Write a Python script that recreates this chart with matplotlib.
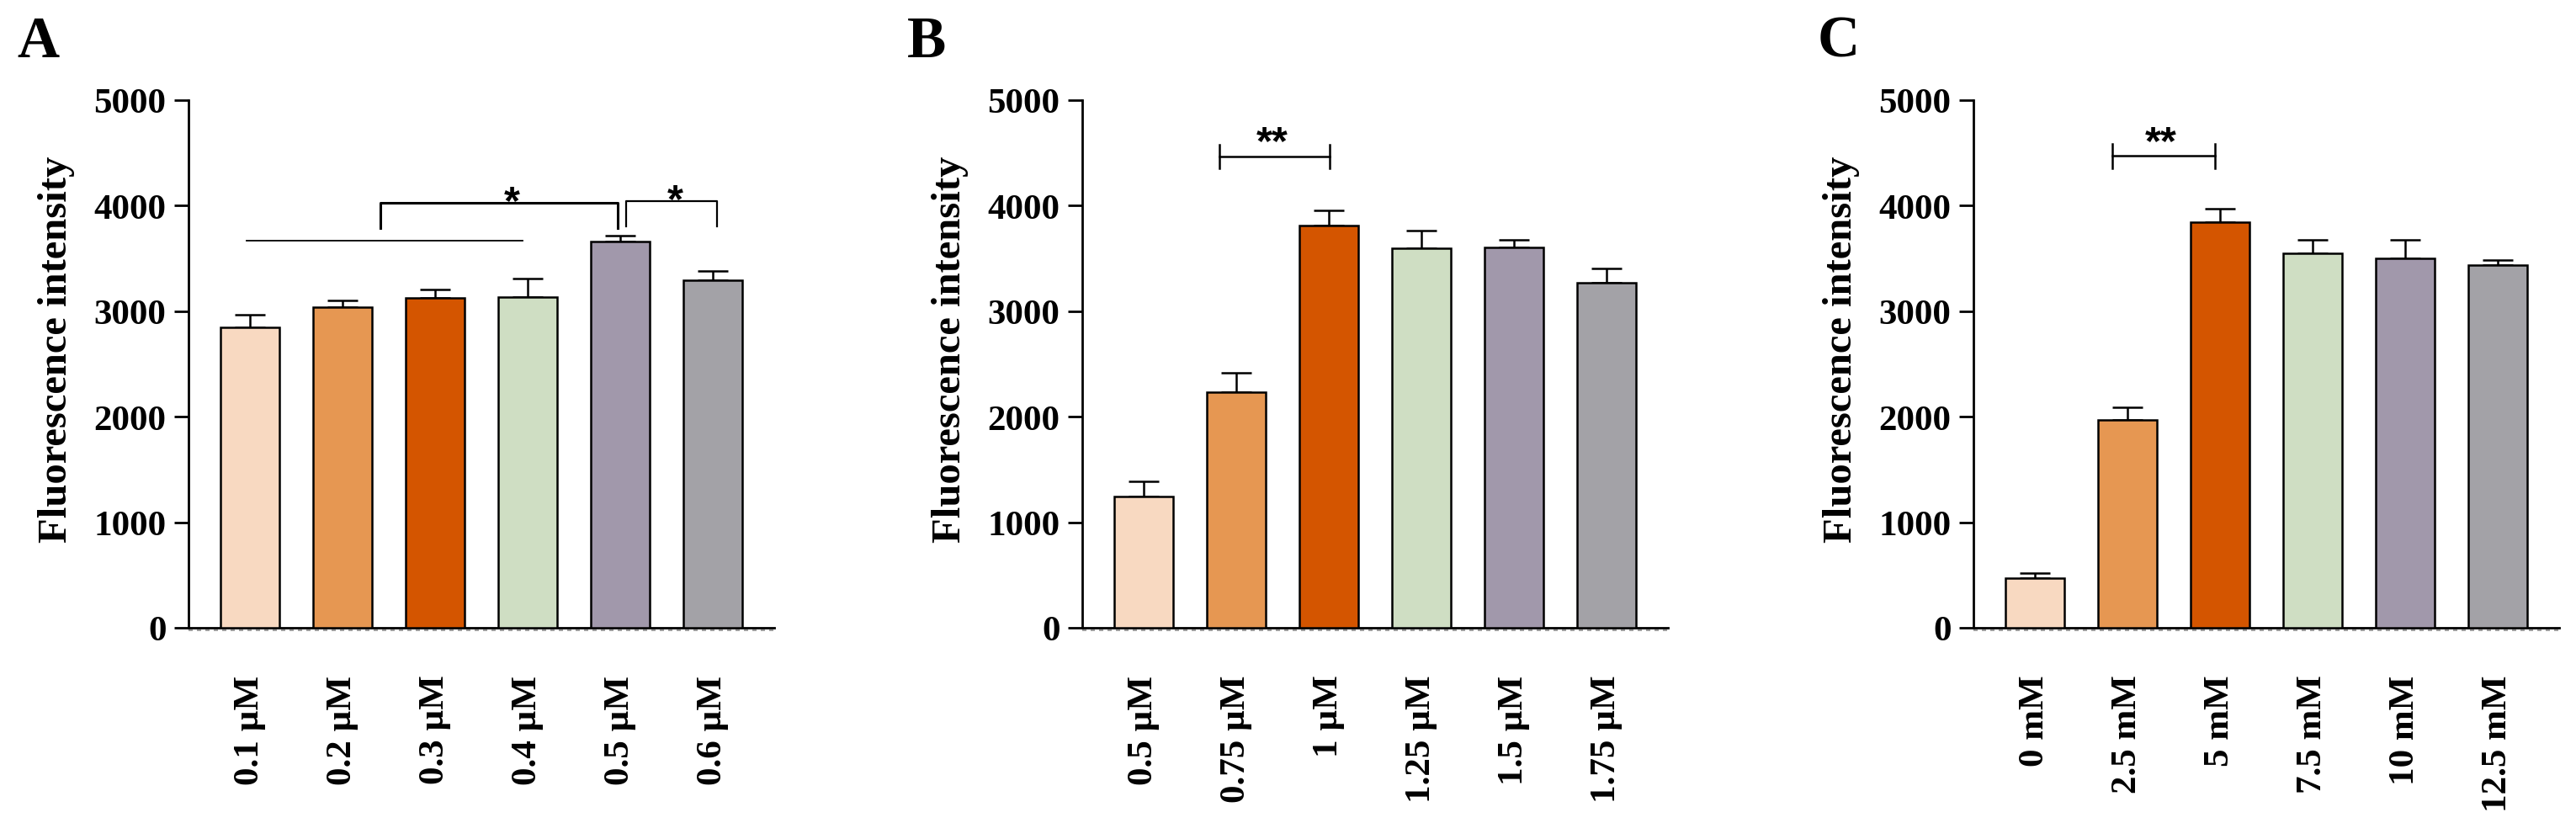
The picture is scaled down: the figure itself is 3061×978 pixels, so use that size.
import matplotlib
matplotlib.use("Agg")
import matplotlib.pyplot as plt
import matplotlib.transforms as mtransforms

plt.rcParams['font.family'] = ['Liberation Serif', 'DejaVu Serif']
plt.rcParams['font.weight'] = 'bold'

# bar colours, same order in all three panels
colors = ["#F8D9C1", "#E69752", "#D45500", "#CFDEC3", "#A198AB", "#A3A2A7"]

labels_a = ["0.1 µM", "0.2 µM", "0.3 µM", "0.4 µM", "0.5 µM", "0.6 µM"]
mean_a = [2850, 3038, 3125, 3135, 3657, 3294]
sd_a = [116, 66, 78, 175, 57, 90]

labels_b = ["0.5 µM", "0.75 µM", "1 µM", "1.25 µM", "1.5 µM", "1.75 µM"]
mean_b = [1244, 2233, 3811, 3595, 3608, 3271]
sd_b = [145, 186, 145, 169, 69, 132]

labels_c = ["0 mM", "2.5 mM", "5 mM", "7.5 mM", "10 mM", "12.5 mM"]
mean_c = [474, 1969, 3845, 3545, 3501, 3435]
sd_c = [47, 117, 130, 133, 174, 53]

W, H = 3061, 979
fig = plt.figure(figsize=(W / 100, H / 100), dpi=100)


def panel(left, letter, letter_x, labels, means, sds):
    ax = fig.add_axes([left / W, 232 / H, 696 / W, 627 / H])
    x = list(range(len(means)))
    ax.bar(x, means, width=0.636, color=colors, edgecolor='black',
           linewidth=1.8, zorder=3)
    ax.errorbar(x, means, yerr=[[0] * len(sds), sds], fmt='none',
                ecolor='black', elinewidth=1.8, capsize=13, capthick=1.8,
                zorder=2)
    ax.set_xlim(-0.664, 5.664)
    ax.set_ylim(0, 5000)
    ax.set_yticks(range(0, 5001, 1000))
    ax.set_xticks(x)
    ax.set_xticklabels(labels, rotation=90)
    for s in ['top', 'right']:
        ax.spines[s].set_visible(False)
    for s in ['left', 'bottom']:
        ax.spines[s].set_linewidth(2)
    ax.tick_params(axis='y', length=12, width=2, pad=7, labelsize=31)
    ax.tick_params(axis='x', length=0, pad=40, labelsize=31)
    # faint dashed baseline just under the x axis
    trans = mtransforms.offset_copy(ax.transData, fig=fig, x=0, y=-3, units='dots')
    ax.plot([-0.664, 5.664], [0, 0], transform=trans, color='#8a8a8a',
            lw=1.2, ls=(0, (3, 3)), clip_on=False, zorder=1)
    fig.text((left - 157) / W, (H - 415) / H, 'Fluorescence intensity',
             rotation=90, ha='center', va='center', fontsize=35)
    fig.text(letter_x / W, (H - 68) / H, letter, ha='left', va='baseline',
             fontsize=50)
    return ax


def star(ax, x, y, s):
    ax.text(x, y, s, ha='center', va='baseline', fontsize=35,
            family=['Liberation Sans', 'DejaVu Sans'], fontweight='bold')


ax = panel(224, 'A', 20, labels_a, mean_a, sd_a)
ax.plot([-0.04, 2.95], [3669, 3669], color='black', lw=1.3, clip_on=False)
ax.plot([1.41, 1.41, 3.97, 3.97], [3785, 4028, 4028, 3785], color='black',
        lw=2.2, clip_on=False)
ax.plot([4.06, 4.06, 5.05, 5.05], [3801, 4041, 4041, 3801], color='black',
        lw=1.6, clip_on=False)
star(ax, 2.83, 3930, '*')
star(ax, 4.59, 3950, '*')

ax = panel(1286, 'B', 1078, labels_b, mean_b, sd_b)
ax.plot([0.82, 2.01], [4466, 4466], color='black', lw=1.8)
ax.plot([0.82, 0.82], [4355, 4576], color='black', lw=1.8)
ax.plot([2.01, 2.01], [4355, 4576], color='black', lw=1.8)
star(ax, 1.39, 4500, '**')

ax = panel(2345, 'C', 2160, labels_c, mean_c, sd_c)
ax.plot([0.836, 1.945], [4473, 4473], color='black', lw=1.8)
ax.plot([0.836, 0.836], [4356, 4583], color='black', lw=1.8)
ax.plot([1.945, 1.945], [4356, 4583], color='black', lw=1.8)
star(ax, 1.36, 4500, '**')

fig.savefig('out.png', dpi=100)
